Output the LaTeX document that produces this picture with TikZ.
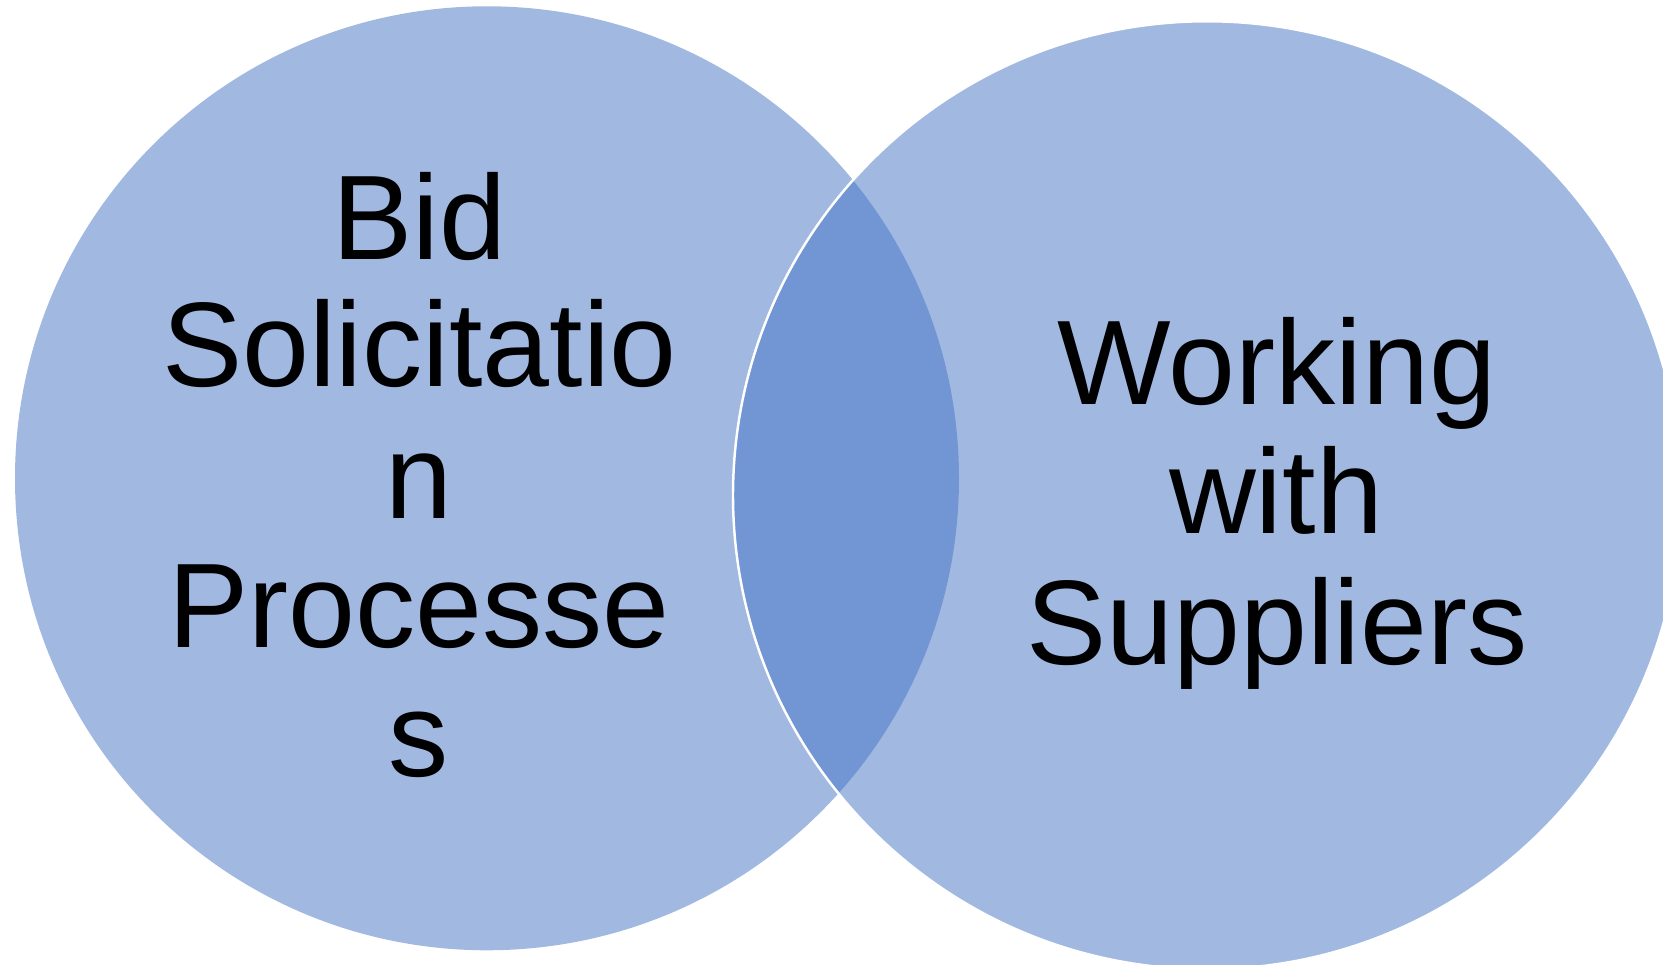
\documentclass[tikz,border=0pt]{standalone}
\usepackage{fontspec}
\setmainfont{Liberation Sans}
\definecolor{vennbase}{HTML}{4472C4}
\tikzset{
  venn/.style={fill=vennbase, fill opacity=0.5},
  vennedge/.style={draw=white, line width=0.7pt},
  lbl/.style={anchor=base, inner sep=0pt, font=\fontsize{34.2}{36.8}\selectfont, text=black}
}
\begin{document}
\begin{tikzpicture}[x=0.01cm, y=-0.01cm]
\useasboundingbox (0,0) rectangle (1663,965);
\clip (0,0) rectangle (1663,965);
\fill[venn] (487,478.3) circle[radius=472];
\fill[venn] (1207,495.3) circle[radius=474];
\draw[vennedge] (1207,495.3) circle[radius=474];
\node[lbl] (l1) at (419,260) {Bid};
\node[lbl] (l2) at (419.5,387) {Solicitatio};
\node[lbl] (l3) at (419,518.5) {n};
\node[lbl] (l4) at (419,648) {Processe};
\node[lbl] (l5) at (419,777) {s};
\node[lbl] (r1) at (1277,405) {Working};
\node[lbl] (r2) at (1276,534) {with};
\node[lbl] (r3) at (1277,665) {Suppliers};
\end{tikzpicture}
\end{document}
